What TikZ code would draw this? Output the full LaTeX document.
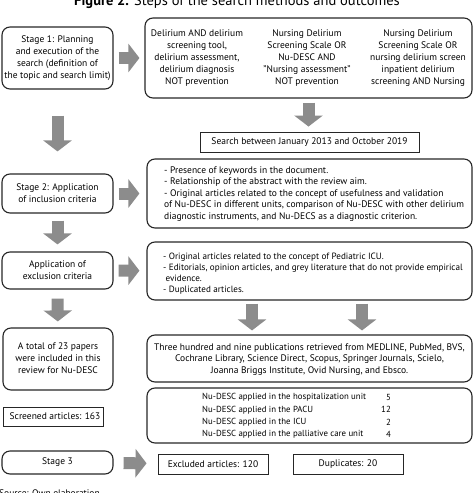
\documentclass[tikz,border=0pt]{standalone}
\usepackage{fontspec}
\setmainfont{PT Sans}
\usetikzlibrary{arrows.meta,calc}
\tikzset{
  rbox/.style={draw=black!85,line width=1.1pt,rounded corners=8pt,inner sep=0pt,anchor=center},
  sbox/.style={draw=black!85,line width=0.9pt,inner sep=0pt,anchor=center},
  txt/.style={inner sep=0pt,align=center,font=\fontsize{9.5}{12}\selectfont},
  ltxt/.style={inner sep=0pt,align=left,font=\fontsize{9.5}{11.5}\selectfont},
  garrow/.style={draw=black!45,line width=12pt,-{Triangle[width=28pt,length=11pt]}},
}
\begin{document}
\begin{tikzpicture}[x=1pt,y=-1pt]
\useasboundingbox (0,0) rectangle (474,493);
\node[txt,anchor=base,font=\fontsize{14.5}{16}\selectfont] (title) at (237,5) {\textbf{Figure 2.} Steps of the search methods and outcomes};
% left column
\node[rbox,minimum width=111pt,minimum height=62pt] (s1) at (57.5,58) {};
\node[txt] (s1t) at (57.5,58) {Stage 1: Planning\\and execution of the\\search (definition of\\the topic and search limit)};
\node[rbox,minimum width=111pt,minimum height=39pt] (s2) at (57.5,193.5) {};
\node[txt] (s2t) at (57.5,193.5) {Stage 2: Application\\of inclusion criteria};
\node[rbox,minimum width=111pt,minimum height=37pt] (exl) at (57.5,270.5) {};
\node[txt] (exlt) at (57.5,270.5) {Application of\\exclusion criteria};
\node[rbox,minimum width=110pt,minimum height=62pt] (tot) at (58,359) {};
\node[txt] (tott) at (58,358) {A total of 23 papers\\were included in this\\review for Nu-DESC};
\node[sbox,minimum width=100pt,minimum height=19pt] (scr) at (53,416.5) {};
\node[txt] (scrt) at (55,416.5) {Screened articles: 163};
\node[rbox,minimum width=111pt,minimum height=23pt] (s3) at (57.5,462.5) {};
\node[txt] (s3t) at (57.5,462.5) {Stage 3};
% right column
\node[rbox,minimum width=327pt,minimum height=80pt] (q) at (308.5,58) {};
\node[txt] (q1) at (197,58) {Delirium AND delirium\\screening tool,\\delirium assessment,\\delirium diagnosis\\NOT prevention};
\node[txt] (q2) at (307,58) {Nursing Delirium\\Screening Scale OR\\Nu-DESC AND\\"Nursing assessment"\\NOT prevention};
\node[txt] (q3) at (418,58) {Nursing Delirium\\Screening Scale OR\\nursing delirium screen\\inpatient delirium\\screening AND Nursing};
\node[sbox,minimum width=219pt,minimum height=20pt] (srch) at (309.5,142) {};
\node[txt] (srcht) at (309.5,142) {Search between January 2013 and October 2019};
\node[rbox,minimum width=325pt,minimum height=69pt] (inc) at (309.5,193.5) {};
\node[ltxt,anchor=west] (inct) at (164,194) {- Presence of keywords in the document.\\- Relationship of the abstract with the review aim.\\- Original articles related to the concept of usefulness and validation\\of Nu-DESC in different units, comparison of Nu-DESC with other delirium\\diagnostic instruments, and Nu-DECS as a diagnostic criterion.};
\node[rbox,minimum width=325pt,minimum height=58pt] (exc) at (309.5,271) {};
\node[ltxt,anchor=west,font=\fontsize{9.1}{11}\selectfont] (exct) at (163,273.5) {- Original articles related to the concept of Pediatric ICU.\\- Editorials, opinion articles, and grey literature that do not provide empirical\\\ evidence.\\- Duplicated articles.};
\node[rbox,minimum width=325pt,minimum height=47pt] (pub) at (309.5,358.5) {};
\node[txt,font=\fontsize{9.5}{11.2}\selectfont] (pubt) at (309.5,359.5) {Three hundred and nine publications retrieved from MEDLINE, PubMed, BVS,\\Cochrane Library, Science Direct, Scopus, Springer Journals, Scielo,\\Joanna Briggs Institute, Ovid Nursing, and Ebsco.};
\node[rbox,minimum width=325pt,minimum height=55pt] (nu) at (309.5,415.5) {};
\node[ltxt,anchor=west,font=\fontsize{8.8}{12.3}\selectfont] (nut) at (202,416) {Nu-DESC applied in the hospitalization unit\\Nu-DESC applied in the PACU\\Nu-DESC applied in the ICU\\Nu-DESC applied in the palliative care unit};
\node[ltxt,anchor=east,align=right,font=\fontsize{8.8}{12.3}\selectfont] (nun) at (391,416) {5\\12\\2\\4};
\node[sbox,minimum width=110pt,minimum height=20pt] (exd) at (213,464) {};
\node[txt] (exdt) at (213,464) {Excluded articles: 120};
\node[sbox,minimum width=110pt,minimum height=20pt] (dup) at (348,464) {};
\node[txt] (dupt) at (348,464) {Duplicates: 20};
\node[txt,anchor=base west] (src) at (-1,496) {Source: Own elaboration};
% arrows
\draw[garrow,shorten <=5pt,shorten >=5pt] (s1) -- (q);
\draw[garrow,shorten <=4pt,shorten >=5pt] (q.south) -- (q.south |- srch.north);
\draw[garrow,shorten <=26pt,shorten >=22pt] (s1) -- (s2);
\draw[garrow,shorten <=5pt,shorten >=7pt] (s2) -- (inc);
\draw[garrow,shorten <=7pt,shorten >=7pt] (s2) -- (exl);
\draw[garrow,shorten <=5pt,shorten >=7pt] (exl) -- (exc);
\draw[garrow,shorten <=9pt,shorten >=6pt] (exl) -- (tot);
\draw[garrow,shorten <=3pt,shorten >=4pt] ([xshift=-57.5pt]exc.south) -- ([xshift=-57.5pt]pub.north);
\draw[garrow,shorten <=3pt,shorten >=4pt] ([xshift=52.5pt]exc.south) -- ([xshift=52.5pt]pub.north);
\draw[garrow,shorten <=10pt,shorten >=11pt] (s3) -- (exd);
\end{tikzpicture}
\end{document}
